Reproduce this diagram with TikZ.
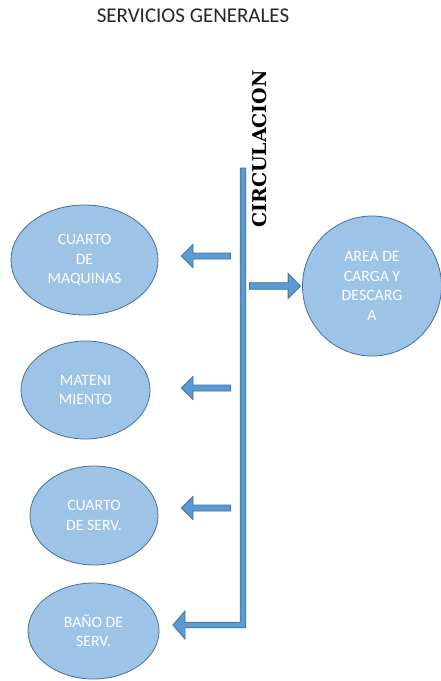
\documentclass[tikz,border=0pt]{standalone}
\usepackage{fontspec}
\setmainfont{Carlito}
\newfontfamily\circfont{DejaVu Serif}
\usetikzlibrary{shapes.geometric,shapes.arrows}
\definecolor{ellfill}{HTML}{9DC3E6}
\definecolor{ellline}{HTML}{41719C}
\definecolor{arrfill}{HTML}{5B9BD5}
\definecolor{titlecol}{HTML}{262626}
\begin{document}
\begin{tikzpicture}[x=1pt,y=-1pt,
  room/.style={ellipse, draw=ellline, fill=ellfill, line width=0.8pt, inner sep=0pt,
    align=center, text=white, font=\fontsize{15.8}{19.5}\selectfont},
  blockarrow/.style={single arrow, draw=ellline, fill=arrfill, line width=0.8pt,
    inner sep=2.6pt, minimum height=49pt, minimum width=23pt,
    single arrow head extend=8.5pt, single arrow head indent=0pt},
  leftarrow/.style={blockarrow, shape border rotate=180}]
\fill[white] (0,0) rectangle (441,681);
\useasboundingbox (0,0) rectangle (441,681);

\node[titlecol, font=\fontsize{21}{24}\selectfont] (title) at (193,16) {SERVICIOS GENERALES};
\node[rotate=90, font=\circfont\bfseries\fontsize{19}{20}\selectfont] (circ) at (260,149) {CIRCULACION};

\node[room, minimum width=147pt, minimum height=110pt] (maq) at (84.5,260) {CUARTO\\DE\\MAQUINAS};
\node[room, minimum width=139pt, minimum height=140pt] (carga) at (372,286) {AREA DE\\CARGA Y\\DESCARG\\A};
\node[room, minimum width=129pt, minimum height=98pt] (mant) at (85.5,390) {MATENI\\MIENTO};
\node[room, minimum width=128pt, minimum height=99pt] (serv) at (94,515.5) {CUARTO\\DE SERV.};
\node[room, minimum width=131pt, minimum height=96pt] (bano) at (93.5,631) {BAÑO DE\\SERV.};

\node[leftarrow] (a1) at (207.5,256) {};
\node[blockarrow, minimum width=25pt, minimum height=51pt] (a2) at (273.5,286) {};
\node[leftarrow] (a3) at (207.5,388) {};
\node[leftarrow] (a4) at (207.5,508) {};

\coordinate (top) at (243,168);
\coordinate (corner) at (243,625);
\coordinate (tip) at (173,625);
\filldraw[fill=arrfill, draw=ellline, line width=0.8pt, line join=miter]
  ([xshift=-2.8pt]top) -- ([xshift=2.8pt]top) -- ([xshift=2.8pt,yshift=-2.8pt]corner)
  -- ([xshift=12pt,yshift=-2.8pt]tip) -- ([xshift=12pt,yshift=-14pt]tip) -- (tip)
  -- ([xshift=12pt,yshift=14pt]tip) -- ([xshift=12pt,yshift=2.8pt]tip)
  -- ([xshift=-2.8pt,yshift=2.8pt]corner) -- cycle;
\end{tikzpicture}
\end{document}
